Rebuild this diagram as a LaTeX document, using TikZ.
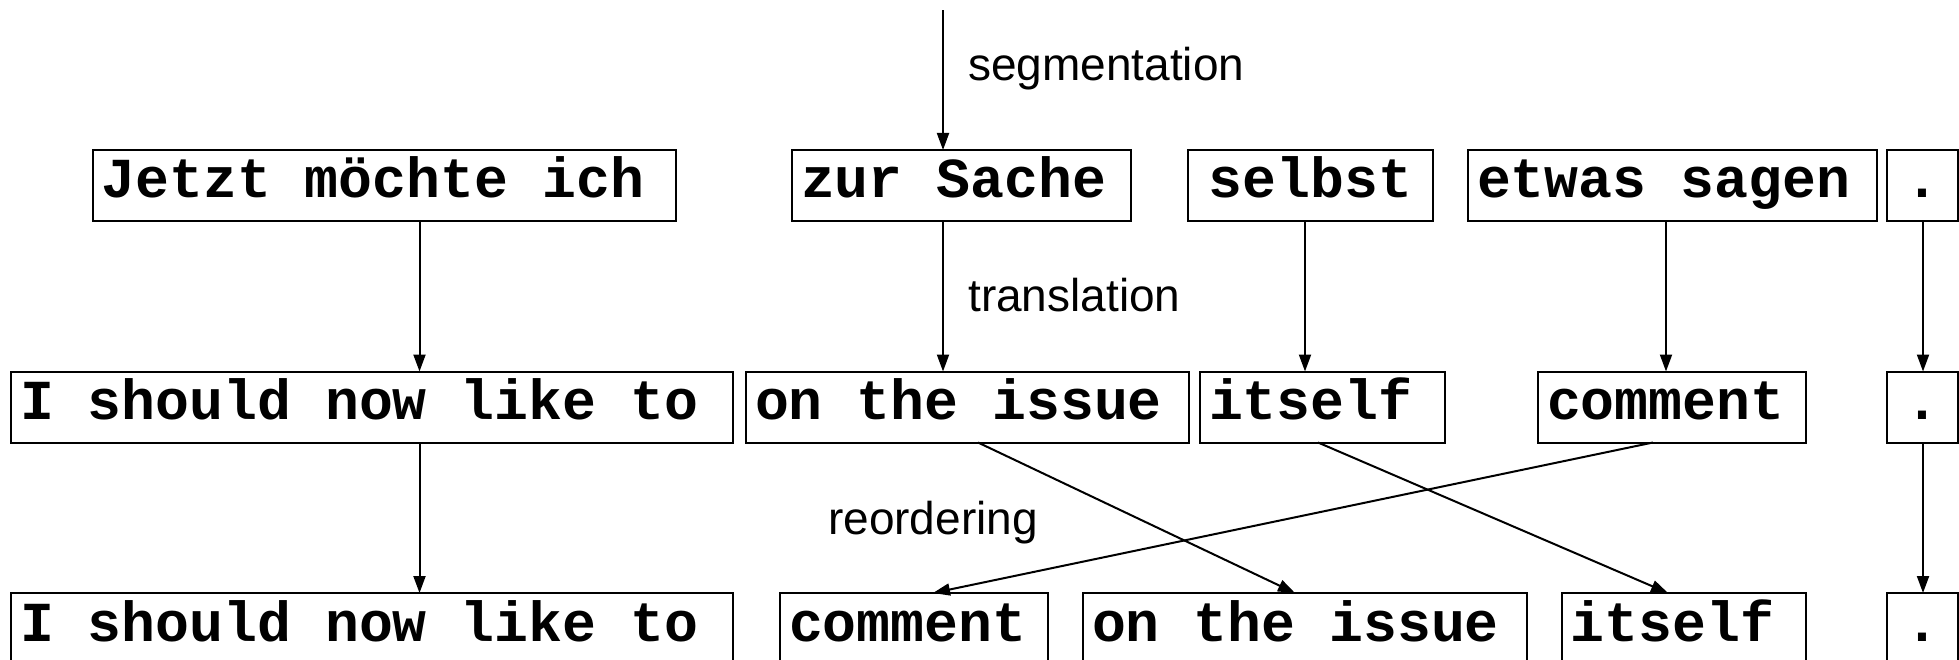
\documentclass[tikz,border=0pt]{standalone}
\usepackage{fontspec}
\setmainfont{Liberation Sans}
\newfontfamily\wordfont{Liberation Mono}
\usetikzlibrary{arrows.meta}
\begin{document}
\begin{tikzpicture}[x=1pt,y=-1pt,
  wordbox/.style={draw, line width=2pt, rectangle, anchor=north west,
    outer sep=0pt, inner ysep=0pt, inner xsep=9pt,
    text height=48pt, text depth=23pt, minimum height=71pt,
    text width=#1, align=flush left,
    font=\wordfont\bfseries\fontsize{56.5}{60}\selectfont},
  centred/.style={align=flush center},
  arr/.style={line width=2pt, -{Triangle[length=17pt,width=12pt]}},
  lab/.style={anchor=base west, inner sep=0pt,
    font=\fontsize{46}{50}\selectfont}]
\useasboundingbox (0,0) rectangle (1959,660);

% German source segments
\node[wordbox=565.5pt] (jetzt)  at (92.5,150) {Jetzt möchte ich};
\node[wordbox=321pt]   (zur)    at (792,150)  {zur Sache};
\node[wordbox=227pt, centred] (selbst) at (1188,150) {selbst};
\node[wordbox=391pt]   (etwas)  at (1468,150) {etwas sagen};
\node[wordbox=53pt, centred] (dotA) at (1887,150) {.};

% word-by-word translation
\node[wordbox=704pt] (ishA) at (11,371.5)  {I should now like to};
\node[wordbox=425pt] (onA)  at (746,371.5) {on the issue};
\node[wordbox=227pt] (itA)  at (1200,371.5) {itself};
\node[wordbox=250pt] (comA) at (1538,371.5) {comment};
\node[wordbox=53pt, centred] (dotB) at (1887,371.5) {.};

% reordered target
\node[wordbox=704pt]   (ishB) at (11,593)     {I should now like to};
\node[wordbox=250pt]   (comB) at (780,593)    {comment};
\node[wordbox=426pt]   (onB)  at (1083,593)   {on the issue};
\node[wordbox=226.5pt] (itB)  at (1561.5,593) {itself};
\node[wordbox=53pt, centred] (dotC) at (1887,593) {.};

% columns of the vertical connectors
\coordinate (src) at (943,10.5);
\coordinate (c1) at (419.5,0);
\coordinate (c2) at (943,0);
\coordinate (c3) at (1305,0);
\coordinate (c4) at (1666,0);
\coordinate (c5) at (1923,0);

\draw[arr] (src) -- (zur.north -| src);
\draw[arr] (jetzt.south -| c1) -- (ishA.north -| c1);
\draw[arr] (zur.south -| c2) -- (onA.north -| c2);
\draw[arr] (selbst.south -| c3) -- (itA.north -| c3);
\draw[arr] (etwas.south -| c4) -- (comA.north -| c4);
\draw[arr] (dotA.south -| c5) -- (dotB.north -| c5);
\draw[arr] (ishA.south -| c1) -- (ishB.north -| c1);
\draw[arr] (dotB.south -| c5) -- (dotC.north -| c5);

% reordering connectors
\draw[arr] ([xshift=232pt]onA.south west) -- ([xshift=212pt]onB.north west);
\draw[arr] ([xshift=118pt]itA.south west) -- ([xshift=106.5pt]itB.north west);
\draw[arr] ([xshift=115pt]comA.south west) -- ([xshift=153pt]comB.north west);

% stage labels
\node[lab] (lseg) at (968,80.7) {segmentation};
\node[lab] (ltra) at (968,311.7) {translation};
\node[lab] (lreo) at (828,534) {reordering};
\end{tikzpicture}
\end{document}
